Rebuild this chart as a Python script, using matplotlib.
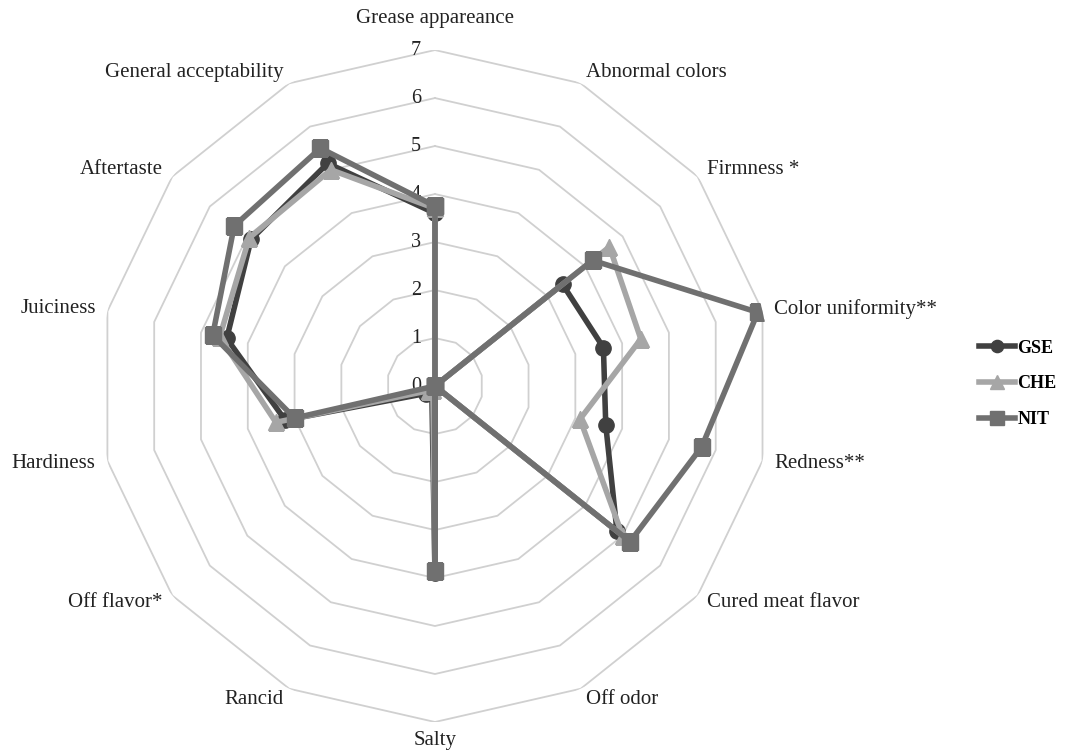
import numpy as np
import matplotlib
matplotlib.use('Agg')
import matplotlib.pyplot as plt
from matplotlib.transforms import offset_copy

plt.rcParams['font.family'] = ['Liberation Serif', 'DejaVu Serif']

categories = ['Grease appareance', 'Abnormal colors', 'Firmness *', 'Color uniformity**',
              'Redness**', 'Cured meat flavor', 'Off odor', 'Salty', 'Rancid',
              'Off flavor*', 'Hardiness', 'Juiciness', 'Aftertaste', 'General acceptability']
gse = [3.6, 0.0, 3.4, 3.6, 3.65, 4.85, 0.0, 3.9, 0.15, 0.25, 3.2, 4.45, 4.9, 5.15]
che = [3.7, 0.0, 4.65, 4.4, 3.1, 5.0, 0.0, 3.85, 0.1, 0.15, 3.4, 4.6, 4.95, 5.0]
nit = [3.75, 0.0, 4.2, 6.9, 5.7, 5.2, 0.0, 3.85, 0.0, 0.0, 3.0, 4.75, 5.35, 5.5]
ticks = [0, 1, 2, 3, 4, 5, 6, 7]

n = len(categories)
angles = np.linspace(0, 2 * np.pi, n, endpoint=False)
closed = np.append(angles, angles[0])

fig = plt.figure(figsize=(10.7, 7.5), dpi=100)
ax = fig.add_axes([0.0925, 0.0373, 0.628, 0.896], projection='polar')
ax.set_theta_zero_location('N')
ax.set_theta_direction(-1)
ax.set_ylim(0, 7)
ax.grid(False)
ax.spines['polar'].set_visible(False)
ax.set_xticks([])
ax.set_yticks([])
ax.patch.set_alpha(0)

# polygon grid rings
for t in ticks[1:]:
    ax.plot(closed, [t] * (n + 1), color='#d0d0d0', lw=1.3, zorder=1)

# tick labels on the top axis
tr = offset_copy(ax.transData, fig=fig, x=-14, y=0, units='dots')
for t in ticks:
    ax.text(0, t, str(t), transform=tr, ha='right', va='center', fontsize=14.5, color='#222222')

# category labels
for a, lab in zip(angles, categories):
    s = np.sin(a)
    if abs(s) < 0.1:
        ha = 'center'
        r = 7.65 if np.cos(a) > 0 else 7.38
    else:
        ha = 'left' if s > 0 else 'right'
        r = 7.25
    ax.text(a, r, lab, ha=ha, va='center', fontsize=15, color='#222222')

def close(v):
    return v + v[:1]

ax.plot(closed, close(gse), color='#404040', lw=4, marker='o', ms=11, label='GSE', zorder=3)
ax.plot(closed, close(che), color='#a6a6a6', lw=4, marker='^', ms=12, label='CHE', zorder=4)
ax.plot(closed, close(nit), color='#707070', lw=4, marker='s', ms=12, label='NIT', zorder=5)

leg = fig.legend(loc='center left', bbox_to_anchor=(0.9, 0.488), frameon=False,
                 prop={'family': 'Liberation Serif', 'weight': 'bold', 'size': 13},
                 handlelength=2.0, handletextpad=0.1, labelspacing=1.05, markerscale=0.8)

fig.savefig('out.png', dpi=100)
